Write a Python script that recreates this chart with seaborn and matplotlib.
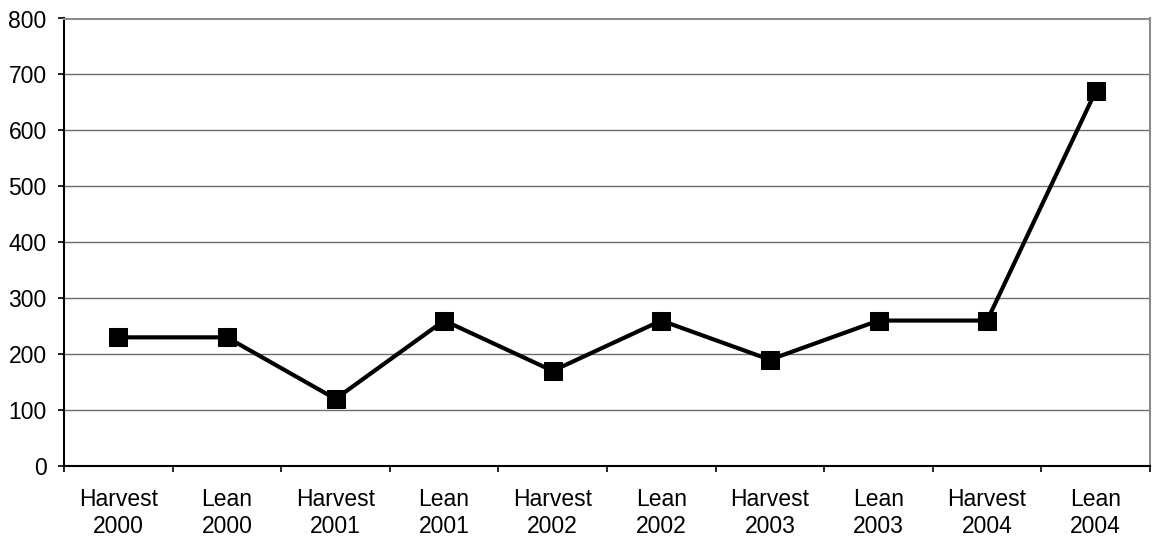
import matplotlib
matplotlib.use("Agg")
import matplotlib.pyplot as plt
import seaborn as sns
import pandas as pd
from matplotlib.ticker import FixedLocator, MultipleLocator

# Period labels and observed values
periods = ["Harvest\n2000", "Lean\n2000", "Harvest\n2001", "Lean\n2001", "Harvest\n2002",
           "Lean\n2002", "Harvest\n2003", "Lean\n2003", "Harvest\n2004", "Lean\n2004"]
values = [230, 230, 120, 260, 170, 260, 190, 260, 260, 670]

sns.set_theme(style="white")
plt.rcParams["font.family"] = ["Liberation Sans", "DejaVu Sans"]
plt.rcParams["text.color"] = "black"
plt.rcParams["xtick.color"] = "black"
plt.rcParams["ytick.color"] = "black"

df = pd.DataFrame({"pos": range(len(periods)), "value": values})

fig = plt.figure(figsize=(11.52, 5.39), dpi=100)
ax = fig.add_axes([64 / 1152, 73 / 539, 1086 / 1152, 447.5 / 539])

sns.lineplot(data=df, x="pos", y="value", ax=ax, color="black", linewidth=3.0,
             marker="s", markersize=13.5, markeredgecolor="black",
             markerfacecolor="black", zorder=3)

ax.set_xlim(-0.5, len(periods) - 0.5)
ax.set_ylim(0, 800)
ax.yaxis.set_major_locator(MultipleLocator(100))
ax.grid(axis="y", color="#6e6e6e", linewidth=1.0)
ax.grid(axis="x", visible=False)

# Category boundaries carry the tick marks; labels sit at category centres
ax.xaxis.set_major_locator(FixedLocator([i - 0.5 for i in range(len(periods) + 1)]))
ax.xaxis.set_minor_locator(FixedLocator(list(range(len(periods)))))
ax.set_xticklabels([""] * (len(periods) + 1))
ax.set_xticklabels(periods, minor=True)
ax.tick_params(axis="x", which="major", direction="out", length=4.5, width=1.2,
               color="black", bottom=True)
ax.tick_params(axis="x", which="minor", length=0, pad=16, labelsize=16.5,
               labelcolor="black")
ax.tick_params(axis="y", direction="out", length=4.5, width=1.2, color="black",
               left=True, labelsize=16.5, pad=8, labelcolor="black")
for lbl in ax.get_xticklabels(minor=True):
    lbl.set_horizontalalignment("center")
    lbl.set_linespacing(1.22)

ax.set_xlabel("")
ax.set_ylabel("")

for side in ("left", "bottom"):
    ax.spines[side].set_color("black")
    ax.spines[side].set_linewidth(1.5)
for side in ("top", "right"):
    ax.spines[side].set_visible(True)
    ax.spines[side].set_color("#8c8c8c")
    ax.spines[side].set_linewidth(1.5)

fig.savefig("out.png", dpi=100, facecolor="white")
